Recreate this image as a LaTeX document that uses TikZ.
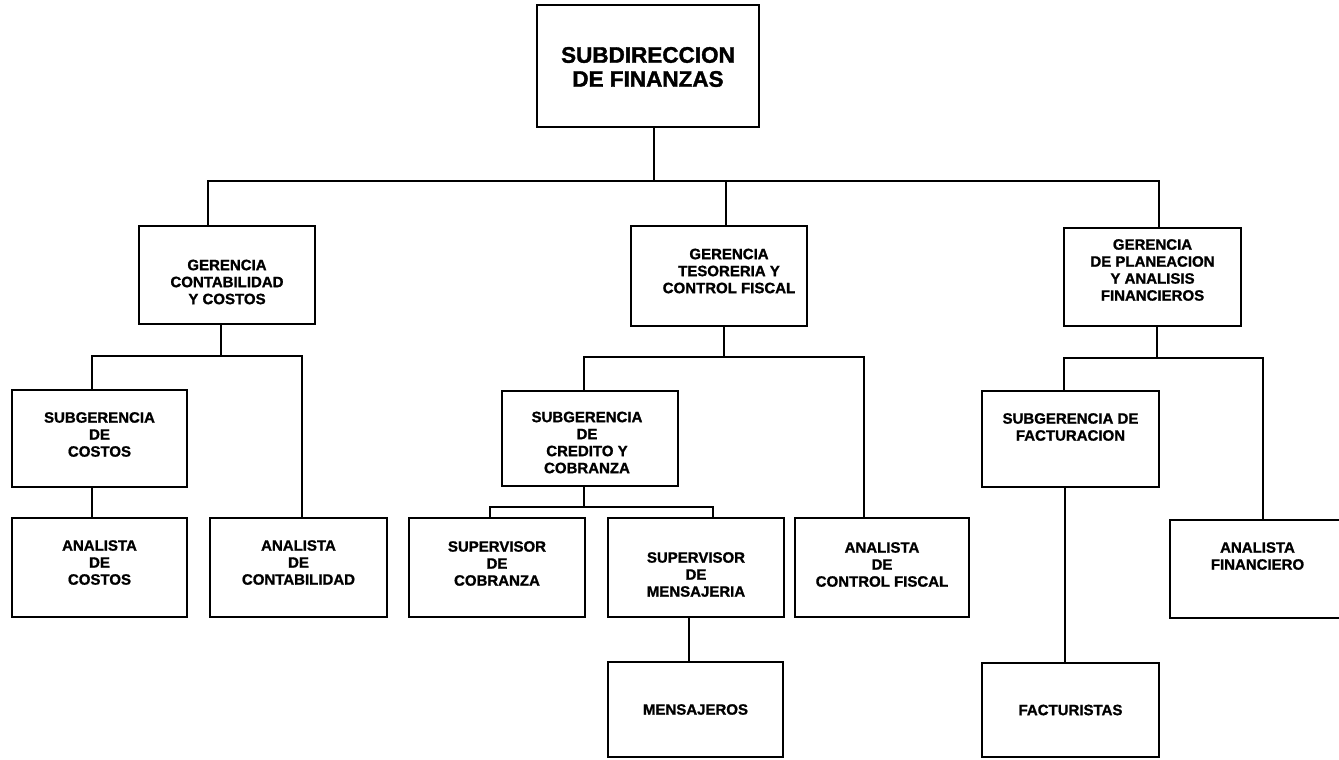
\documentclass[tikz,border=0pt]{standalone}
\usepackage{fontspec}
\newfontfamily\boxfont{Liberation Sans Bold}[FakeBold=1.2]
\newfontfamily\headfont{Liberation Sans Bold}[FakeBold=1.5]
\tikzset{
  unitbox/.style={draw, line width=1.7pt, rectangle, inner sep=0pt},
  txt/.style={font=\boxfont\fontsize{15}{17}\selectfont, align=center, inner sep=0pt},
  headtxt/.style={font=\headfont\fontsize{22.5}{24}\selectfont, align=center, inner sep=0pt},
  wire/.style={line width=1.7pt, line join=miter},
}
\begin{document}
\begin{tikzpicture}[x=1pt, y=-1pt]
\useasboundingbox (0,0) rectangle (1339,760);
\clip (0,0) rectangle (1339,760);

% top level
\node[unitbox, minimum width=222pt, minimum height=122pt,
  label={[headtxt, yshift=-1pt]center:{SUBDIRECCION\\DE FINANZAS}}] (T) at (648,66) {};

% managers
\node[unitbox, minimum width=176pt, minimum height=98pt,
  label={[txt, yshift=-7pt]center:{GERENCIA\\CONTABILIDAD\\Y COSTOS}}] (GC) at (227,275) {};
\node[unitbox, minimum width=176pt, minimum height=100pt,
  label={[txt, xshift=10pt, yshift=5pt]center:{GERENCIA\\TESORERIA Y\\CONTROL FISCAL}}] (GT) at (719,276) {};
\node[unitbox, minimum width=177pt, minimum height=98pt,
  label={[txt, yshift=7pt]center:{GERENCIA\\DE PLANEACION\\Y ANALISIS\\FINANCIEROS}}] (GP) at (1152.5,277) {};

% accounting and costs branch
\node[unitbox, minimum width=175pt, minimum height=97pt,
  label={[txt, yshift=4pt]center:{SUBGERENCIA\\DE\\COSTOS}}] (SC) at (99.5,438.5) {};
\node[unitbox, minimum width=175pt, minimum height=99pt,
  label={[txt, yshift=5pt]center:{ANALISTA\\DE\\COSTOS}}] (AC) at (99.5,567.5) {};
\node[unitbox, minimum width=177pt, minimum height=99pt,
  label={[txt, yshift=5pt]center:{ANALISTA\\DE\\CONTABILIDAD}}] (ACo) at (298.5,567.5) {};

% treasury branch
\node[unitbox, minimum width=176pt, minimum height=95pt,
  label={[txt, xshift=-3pt, yshift=-4pt]center:{SUBGERENCIA\\DE\\CREDITO Y\\COBRANZA}}] (SCC) at (590,438.5) {};
\node[unitbox, minimum width=176pt, minimum height=99pt,
  label={[txt, yshift=4pt]center:{SUPERVISOR\\DE\\COBRANZA}}] (SupCob) at (497,567.5) {};
\node[unitbox, minimum width=176pt, minimum height=99pt,
  label={[txt, yshift=-7pt]center:{SUPERVISOR\\DE\\MENSAJERIA}}] (SupMen) at (696,567.5) {};
\node[unitbox, minimum width=175pt, minimum height=95pt,
  label={[txt]center:{MENSAJEROS}}] (Mens) at (695.5,709.5) {};
\node[unitbox, minimum width=174pt, minimum height=99pt,
  label={[txt, yshift=3pt]center:{ANALISTA\\DE\\CONTROL FISCAL}}] (ACF) at (882,567.5) {};

% planning branch
\node[unitbox, minimum width=177pt, minimum height=96pt,
  label={[txt, yshift=12pt]center:{SUBGERENCIA DE\\FACTURACION}}] (SF) at (1070.5,439) {};
\node[unitbox, minimum width=177pt, minimum height=94pt,
  label={[txt]center:{FACTURISTAS}}] (Fact) at (1070.5,710) {};
\node[unitbox, minimum width=175pt, minimum height=98pt,
  label={[txt, yshift=13pt]center:{ANALISTA\\FINANCIERO}}] (AF) at (1257.5,569) {};

% junction points of the connector buses
\coordinate (m0) at (654,181);
\coordinate (mGC) at (208,181);
\coordinate (mGT) at (726,181);
\coordinate (mGP) at (1159,181);
\coordinate (c1) at (221,356);
\coordinate (c2) at (92,356);
\coordinate (c3) at (302,356);
\coordinate (t1) at (724,357);
\coordinate (t2) at (584,357);
\coordinate (t3) at (864,357);
\coordinate (s1) at (584,507);
\coordinate (s2) at (490,507);
\coordinate (s3) at (713,507);
\coordinate (s4) at (689,0);
\coordinate (p1) at (1157,358);
\coordinate (p2) at (1064,358);
\coordinate (p3) at (1263,358);
\coordinate (p4) at (1065,0);

% top level to managers
\draw[wire] (T.south -| m0) -- (m0);
\draw[wire] (GC.north -| mGC) |- (mGP) -- (GP.north -| mGP);
\draw[wire] (mGT) -- (GT.north -| mGT);

% accounting and costs
\draw[wire] (GC.south -| c1) -- (c1);
\draw[wire] (SC.north -| c2) |- (c3) -- (ACo.north -| c3);
\draw[wire] (SC.south -| c2) -- (AC.north -| c2);

% treasury and fiscal control
\draw[wire] (GT.south -| t1) -- (t1);
\draw[wire] (SCC.north -| t2) |- (t3) -- (ACF.north -| t3);
\draw[wire] (SCC.south -| s1) -- (s1);
\draw[wire] (SupCob.north -| s2) |- (s3) -- (SupMen.north -| s3);
\draw[wire] (SupMen.south -| s4) -- (Mens.north -| s4);

% planning and financial analysis
\draw[wire] (GP.south -| p1) -- (p1);
\draw[wire] (SF.north -| p2) |- (p3) -- (AF.north -| p3);
\draw[wire] (SF.south -| p4) -- (Fact.north -| p4);
\end{tikzpicture}
\end{document}
